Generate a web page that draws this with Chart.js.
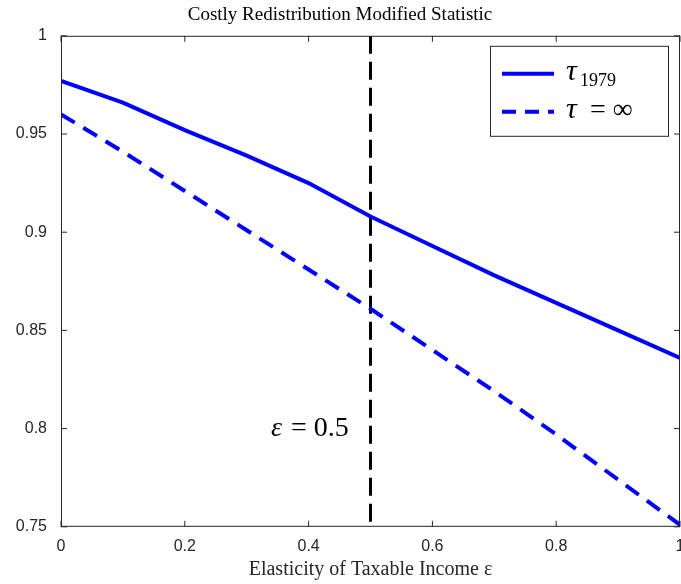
<!DOCTYPE html>
<html>
<head>
<script src="https://cdn.jsdelivr.net/npm/chart.js@4"></script>
<style>
html,body{margin:0;padding:0;background:#fff;}
#wrap{width:681px;height:584px;}
</style>
</head>
<body>
<div id="wrap"><canvas id="c"></canvas></div>
<script>
const xValues = [0, 0.1, 0.2, 0.3, 0.4, 0.5, 0.6, 0.7, 0.8, 0.9, 1.0];
const tau1979 = [0.977, 0.966, 0.952, 0.939, 0.925, 0.908, 0.893, 0.878, 0.864, 0.850, 0.836];
const tauInf = [0.960, 0.941, 0.921, 0.901, 0.881, 0.861, 0.840, 0.819, 0.797, 0.774, 0.751];
const epsLine = [0.5, 0.5];
const epsY = [1.0, 0.75];

const toXY = (xs, ys) => xs.map((x, i) => ({x: x, y: ys[i]}));

const frame = {
    id: 'frame',
    afterDraw(chart) {
        const ctx = chart.ctx;
        const a = chart.chartArea;
        const xs = chart.scales.x, ys = chart.scales.y;
        ctx.save();
        ctx.strokeStyle = '#262626';
        ctx.lineWidth = 1;
        ctx.strokeRect(a.left + 0.5, a.top + 0.5, a.right - a.left - 1, a.bottom - a.top - 1);
        for (let v = 0; v <= 1.0001; v += 0.2) {
            const px = xs.getPixelForValue(v);
            ctx.beginPath();
            ctx.moveTo(px, a.bottom); ctx.lineTo(px, a.bottom - 6);
            ctx.moveTo(px, a.top); ctx.lineTo(px, a.top + 6);
            ctx.stroke();
        }
        for (let v = 0.75; v <= 1.0001; v += 0.05) {
            const py = ys.getPixelForValue(v);
            ctx.beginPath();
            ctx.moveTo(a.left, py); ctx.lineTo(a.left + 6, py);
            ctx.moveTo(a.right, py); ctx.lineTo(a.right - 6, py);
            ctx.stroke();
        }
        // annotation
        ctx.fillStyle = '#000';
        ctx.textBaseline = 'middle';
        ctx.textAlign = 'right';
        const ax = xs.getPixelForValue(0.465), ay = ys.getPixelForValue(0.8);
        ctx.font = '28px "Liberation Serif"';
        ctx.fillText('= 0.5', ax, ay);
        const w = ctx.measureText('= 0.5').width;
        ctx.font = 'italic 28px "Liberation Serif"';
        ctx.fillText('\u03b5 ', ax - w - 2, ay);
        // legend box
        const lx = a.right - 190, ly = a.top + 10, lw = 178, lh = 90;
        ctx.fillStyle = '#fff';
        ctx.fillRect(lx, ly, lw, lh);
        ctx.strokeStyle = '#262626';
        ctx.lineWidth = 1;
        ctx.strokeRect(lx + 0.5, ly + 0.5, lw, lh);
        ctx.strokeStyle = '#0000ff';
        ctx.lineWidth = 4;
        ctx.beginPath(); ctx.moveTo(lx + 12, ly + 28); ctx.lineTo(lx + 64, ly + 28); ctx.stroke();
        ctx.setLineDash([14, 9]);
        ctx.beginPath(); ctx.moveTo(lx + 12, ly + 66); ctx.lineTo(lx + 64, ly + 66); ctx.stroke();
        ctx.setLineDash([]);
        ctx.fillStyle = '#000';
        ctx.textAlign = 'left';
        ctx.font = 'italic 30px "Liberation Serif"';
        ctx.fillText('\u03c4', lx + 76, ly + 26);
        ctx.font = '18px "Liberation Serif"';
        ctx.fillText('1979', lx + 90, ly + 35);
        ctx.font = 'italic 30px "Liberation Serif"';
        ctx.fillText('\u03c4', lx + 76, ly + 64);
        ctx.font = '28px "Liberation Serif"';
        ctx.fillText('= \u221e', lx + 100, ly + 65);
        ctx.restore();
    }
};

new Chart(document.getElementById('c').getContext('2d'), {
    type: 'line',
    data: {
        datasets: [
            {label: 'tau1979', data: toXY(xValues, tau1979), borderColor: '#0000ff', borderWidth: 4, pointRadius: 0, tension: 0},
            {label: 'tauInf', data: toXY(xValues, tauInf), borderColor: '#0000ff', borderWidth: 4, borderDash: [16, 10], pointRadius: 0, tension: 0},
            {label: 'eps', data: toXY(epsLine, epsY), borderColor: '#000', borderWidth: 3, borderDash: [18, 8], pointRadius: 0}
        ]
    },
    options: {
        responsive: true,
        maintainAspectRatio: false,
        animation: false,
        layout: {padding: {left: 0, right: 1, top: 0, bottom: 2}},
        plugins: {
            legend: {display: false},
            tooltip: {enabled: false},
            title: {display: true, text: 'Costly Redistribution Modified Statistic', color: '#000',
                font: {family: 'Liberation Serif', size: 19, weight: 'normal'}, padding: {top: 4, bottom: 9}}
        },
        scales: {
            x: {
                type: 'linear', min: 0, max: 1,
                grid: {display: false},
                border: {display: false},
                afterFit: s => { s.paddingRight = 0; },
                ticks: {stepSize: 0.2, color: '#262626', font: {family: 'Liberation Sans', size: 16}, padding: 2,
                    callback: v => Math.abs(v - 1) < 1e-9 ? '1' : (Math.abs(v) < 1e-9 ? '0' : v.toFixed(1))},
                title: {display: true, text: 'Elasticity of Taxable Income \u03b5', color: '#262626',
                    font: {family: 'Liberation Serif', size: 20}, padding: {top: 0, bottom: 0}}
            },
            y: {
                min: 0.75, max: 1,
                grid: {display: false},
                border: {display: false},
                afterFit: s => { s.width = 61; },
                ticks: {stepSize: 0.05, color: '#262626', font: {family: 'Liberation Sans', size: 16}, padding: 6,
                    callback: v => Math.abs(v - 1) < 1e-9 ? '1' : String(Math.round(v * 100) / 100)}
            }
        }
    },
    plugins: [frame]
});
</script>
</body>
</html>
